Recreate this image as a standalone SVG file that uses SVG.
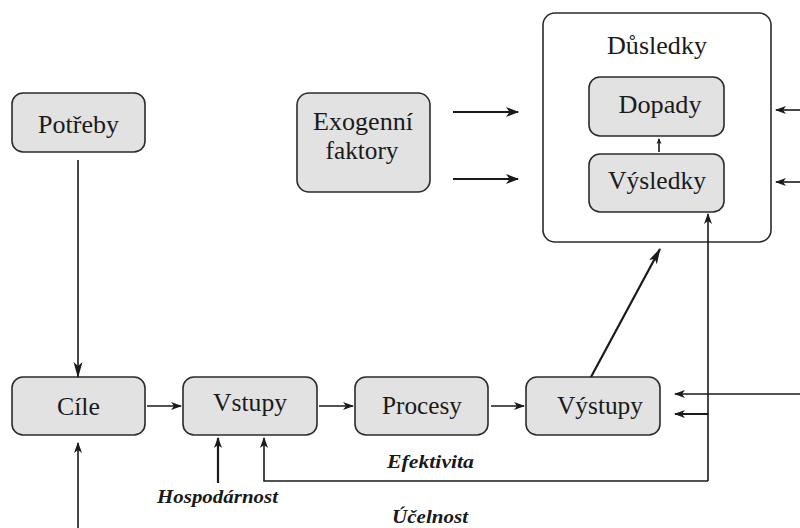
<svg xmlns="http://www.w3.org/2000/svg" width="800" height="528" viewBox="0 0 800 528">
<defs>
<style>
.box{fill:#e2e2e2;stroke:#2b2b2b;stroke-width:1.6}
.outer{fill:#ffffff;stroke:#2b2b2b;stroke-width:1.6}
.lbl{font-family:"Liberation Serif","Times New Roman",serif;font-size:25px;fill:#1a1a1a;text-anchor:middle}
.ital{font-family:"Liberation Serif","Times New Roman",serif;font-size:19px;font-style:italic;font-weight:bold;fill:#1a1a1a;text-anchor:middle}
.ln{fill:none;stroke:#1a1a1a;stroke-width:1.6}
.thick{fill:none;stroke:#1a1a1a;stroke-width:2.2}
</style>
<marker id="ah" markerUnits="userSpaceOnUse" markerWidth="11" markerHeight="9" refX="10" refY="4.5" orient="auto">
<path d="M0,0.5 L11,4.5 L0,8.5 L3,4.5 z" fill="#1a1a1a"/>
</marker>
<marker id="ahb" markerUnits="userSpaceOnUse" markerWidth="13" markerHeight="11" refX="12" refY="5.5" orient="auto">
<path d="M0,0.5 L13,5.5 L0,10.5 L3.5,5.5 z" fill="#1a1a1a"/>
</marker>
<marker id="ahl" markerUnits="userSpaceOnUse" markerWidth="16" markerHeight="10" refX="15" refY="5" orient="auto">
<path d="M0,0.5 L16,5 L0,9.5 L4,5 z" fill="#1a1a1a"/>
</marker>
<marker id="ahs" markerUnits="userSpaceOnUse" markerWidth="6" markerHeight="6" refX="5" refY="3" orient="auto">
<path d="M0,0.5 L6,3 L0,5.5 L1.5,3 z" fill="#1a1a1a"/>
</marker>
</defs>

<g id="node-dusledky">
<rect class="outer" x="543" y="13" width="228" height="229" rx="12"/>
<text class="lbl" x="657" y="54" textLength="100" lengthAdjust="spacingAndGlyphs">Důsledky</text>
</g>
<g id="node-dopady">
<rect class="box" x="589" y="77" width="135" height="59" rx="11"/>
<text class="lbl" x="660" y="113" textLength="83" lengthAdjust="spacingAndGlyphs">Dopady</text>
</g>
<g id="node-vysledky">
<rect class="box" x="589" y="154" width="135" height="58" rx="11"/>
<text class="lbl" x="657" y="189" textLength="98" lengthAdjust="spacingAndGlyphs">Výsledky</text>
</g>
<g id="node-potreby">
<rect class="box" x="12" y="93" width="133" height="59" rx="11"/>
<text class="lbl" x="78.5" y="133" textLength="81" lengthAdjust="spacingAndGlyphs">Potřeby</text>
</g>
<g id="node-exogenni">
<rect class="box" x="297" y="93" width="133" height="99" rx="12"/>
<text class="lbl" x="363" y="130" textLength="100" lengthAdjust="spacingAndGlyphs">Exogenní</text>
<text class="lbl" x="362" y="159" textLength="73" lengthAdjust="spacingAndGlyphs">faktory</text>
</g>
<g id="node-cile">
<rect class="box" x="12" y="377" width="133" height="58" rx="11"/>
<text class="lbl" x="78.5" y="415" textLength="43" lengthAdjust="spacingAndGlyphs">Cíle</text>
</g>
<g id="node-vstupy">
<rect class="box" x="183" y="377" width="134" height="58" rx="11"/>
<text class="lbl" x="250" y="411" textLength="74" lengthAdjust="spacingAndGlyphs">Vstupy</text>
</g>
<g id="node-procesy">
<rect class="box" x="355" y="377" width="133" height="58" rx="11"/>
<text class="lbl" x="422" y="414" textLength="80" lengthAdjust="spacingAndGlyphs">Procesy</text>
</g>
<g id="node-vystupy">
<rect class="box" x="526" y="377" width="134" height="58" rx="11"/>
<text class="lbl" x="600" y="414" textLength="86" lengthAdjust="spacingAndGlyphs">Výstupy</text>
</g>

<g id="labels">
<text class="ital" x="430.5" y="468" textLength="87" lengthAdjust="spacingAndGlyphs">Efektivita</text>
<text class="ital" x="217.5" y="503" textLength="121" lengthAdjust="spacingAndGlyphs">Hospodárnost</text>
<text class="ital" x="430" y="523" textLength="76" lengthAdjust="spacingAndGlyphs">Účelnost</text>
</g>

<g id="connectors">
<line class="ln" x1="78" y1="160" x2="78" y2="377" marker-end="url(#ahl)"/>
<line class="ln" x1="78" y1="528" x2="78" y2="443" marker-end="url(#ah)"/>
<line class="ln" x1="147" y1="406" x2="181" y2="406" marker-end="url(#ah)"/>
<line class="ln" x1="319" y1="406" x2="353" y2="406" marker-end="url(#ah)"/>
<line class="ln" x1="491" y1="406" x2="524" y2="406" marker-end="url(#ah)"/>
<line class="thick" x1="453" y1="112" x2="518" y2="112" marker-end="url(#ahb)"/>
<line class="thick" x1="453" y1="179" x2="518" y2="179" marker-end="url(#ahb)"/>
<line class="ln" x1="800" y1="110" x2="776" y2="110" marker-end="url(#ah)"/>
<line class="ln" x1="800" y1="182" x2="776" y2="182" marker-end="url(#ah)"/>
<line class="ln" x1="659" y1="152" x2="659" y2="139" marker-end="url(#ahs)"/>
<line class="thick" x1="591" y1="377" x2="660" y2="249" marker-end="url(#ahl)"/>
<line class="thick" x1="218" y1="483" x2="218" y2="438" marker-end="url(#ah)"/>
<polyline class="ln" points="708,481 264,481 264,438" marker-end="url(#ah)"/>
<line class="ln" x1="708" y1="481" x2="708" y2="214" marker-end="url(#ah)"/>
<line class="ln" x1="800" y1="394" x2="675" y2="394" marker-end="url(#ah)"/>
<line class="thick" x1="708" y1="414" x2="675" y2="414" marker-end="url(#ah)"/>
</g>
</svg>
